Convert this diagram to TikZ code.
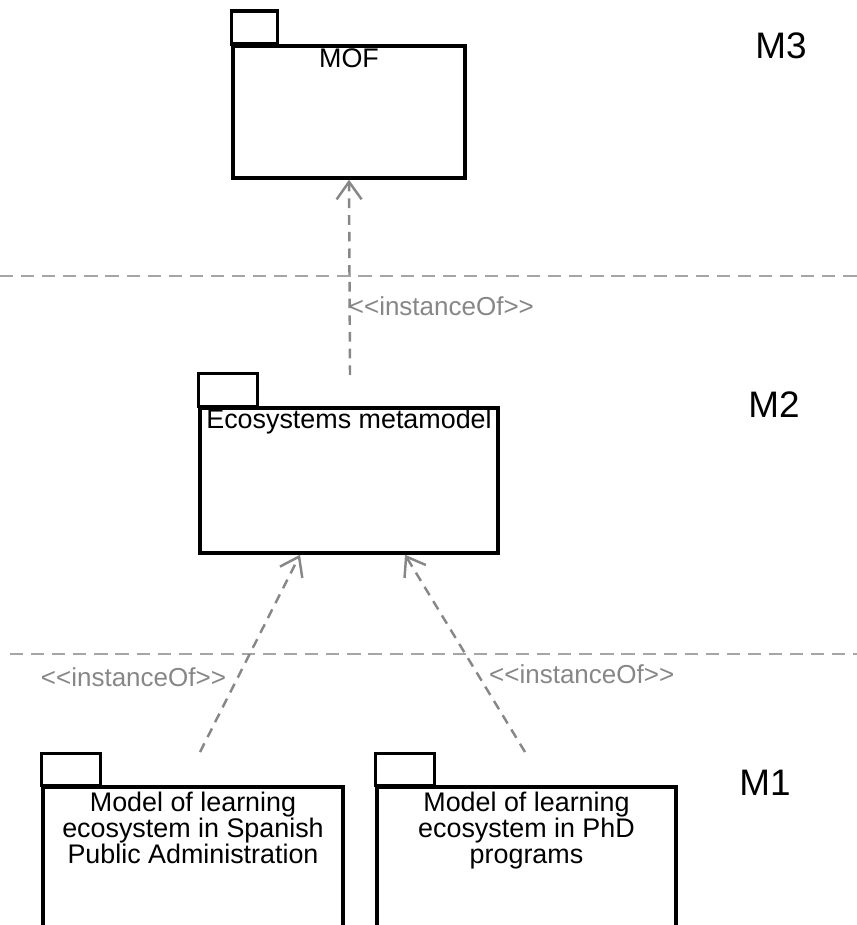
\documentclass[tikz,border=0pt]{standalone}
\usepackage{fontspec}
\setmainfont{Liberation Sans}
\usetikzlibrary{arrows.meta,calc}
\definecolor{linkgray}{RGB}{135,135,135}
\definecolor{levelgray}{RGB}{165,165,165}

\begin{document}
\begin{tikzpicture}[x=0.02cm,y=-0.02cm,
    pkg/.style={draw,line width=2pt,rectangle,inner sep=0pt},
    pkgname/.style={anchor=north,inner sep=0pt,align=center,font=\fontsize{15.3}{15}\selectfont},
    level/.style={inner sep=0pt,font=\fontsize{21}{21}\selectfont},
    inst/.style={draw=linkgray,line width=1.4pt,dash pattern=on 5.5pt off 4pt,
        -{Straight Barb[length=3.5mm,width=5mm,line width=1.4pt]}},
    instlabel/.style={text=linkgray,inner sep=0pt,font=\fontsize{14.8}{14.8}\selectfont},
    levelsep/.style={draw=levelgray,line width=1.2pt,dash pattern=on 7.5pt off 4.5pt}]
    \useasboundingbox (0,0) rectangle (857,925);
    \clip (0,0) rectangle (857,925);

    % Level separators
    \foreach \y/\x in {276/0,654/10} {
        \draw[levelsep] (\x,\y) -- (857,\y);
    }

    % Level names
    \node[level] (m3) at (781,45.5) {M3};
    \node[level] (m2) at (774,405) {M2};
    \node[level] (m1) at (765,783) {M1};

    % MOF package
    \node[pkg,minimum width=4.64cm,minimum height=2.64cm] (mof) at (349,112) {};
    \draw[line width=2pt] (mof.north west) rectangle ++(46,-33);
    \node[pkgname] (mof-name) at ($(mof.north)+(0,4)$) {MOF};

    % Metamodel package
    \node[pkg,minimum width=5.96cm,minimum height=2.9cm] (meta) at (349,480.5) {};
    \draw[line width=2pt] (meta.north west) rectangle ++(59,-33);
    \node[pkgname] (meta-name) at ($(meta.north)+(0,2)$) {Ecosystems metamodel};
    \coordinate (meta-top) at (350,375);

    % Model packages
    \node[pkg,minimum width=6cm,minimum height=3.6cm] (spa) at (193,877) {};
    \draw[line width=2pt] (spa.north west) rectangle ++(59,-32);
    \node[pkgname] (spa-name) at ($(spa.north)+(0,6)$)
        {Model of learning\\ecosystem in Spanish\\Public Administration};
    \coordinate (spa-top) at (200,752);

    \node[pkg,minimum width=5.98cm,minimum height=3.6cm] (phd) at (526.5,877) {};
    \draw[line width=2pt] (phd.north west) rectangle ++(59,-32);
    \node[pkgname] (phd-name) at ($(phd.north)+(0,6)$)
        {Model of learning\\ecosystem in PhD\\programs};
    \coordinate (phd-top) at (525,752);

    % instanceOf links
    \draw[inst] (meta-top) -- (mof.south)
        node[instlabel,pos=0.35,anchor=west,xshift=-0.04cm] (inst-meta) {<{}<instanceOf>{}>};
    \draw[inst] (spa-top) -- ($(meta.south)+(-49,0)$)
        node[instlabel,pos=0.377,anchor=east,xshift=-0.21cm] (inst-spa) {<{}<instanceOf>{}>};
    \draw[inst] (phd-top) -- ($(meta.south)+(56,0)$)
        node[instlabel,pos=0.392,anchor=west,xshift=0.2cm] (inst-phd) {<{}<instanceOf>{}>};
\end{tikzpicture}
\end{document}
